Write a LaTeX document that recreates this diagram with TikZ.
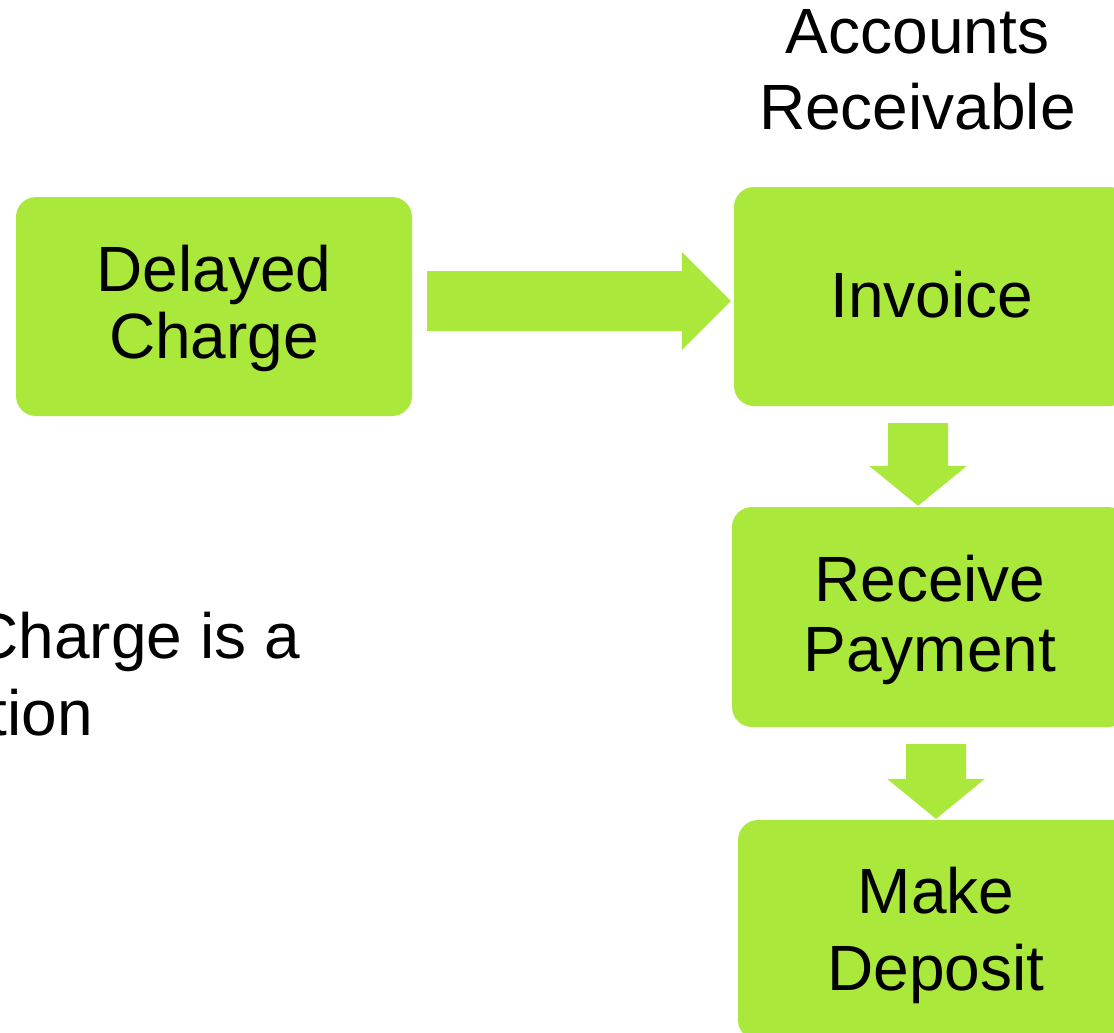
\documentclass[tikz,border=0pt]{standalone}
\usepackage{fontspec}
\setmainfont{Liberation Sans}
\usetikzlibrary{calc}

\definecolor{stepgreen}{RGB}{171,232,60}

\tikzset{
  stepbox/.style={fill=stepgreen, draw=none, rounded corners=20pt,
    align=center, inner sep=0pt, text=black, minimum width=396pt,
    font=\fontsize{64pt}{#1}\selectfont},
  stepbox/.default=72pt,
  plaintext/.style={inner sep=0pt, align=center, text=black,
    font=\fontsize{64pt}{#1}\selectfont},
  plaintext/.default=76pt,
  blockarrow/.style={fill=stepgreen, draw=none}
}

% block arrow pointing right, shaft half-width 30, head half-width 49
\newcommand\rightblock[2]{%
  \fill[blockarrow] ($(#1)+(0,-30)$) -- ($(#2)+(-49,-30)$) -- ($(#2)+(-49,-49)$)
    -- (#2) -- ($(#2)+(-49,49)$) -- ($(#2)+(-49,30)$) -- ($(#1)+(0,30)$) -- cycle;}
% block arrow pointing down
\newcommand\downblock[2]{%
  \fill[blockarrow] ($(#1)+(-30,0)$) -- ($(#2)+(-30,-40)$) -- ($(#2)+(-49,-40)$)
    -- (#2) -- ($(#2)+(49,-40)$) -- ($(#2)+(30,-40)$) -- ($(#1)+(30,0)$) -- cycle;}

\begin{document}
\begin{tikzpicture}[x=1pt, y=-1pt]
  \path[use as bounding box, clip] (0,0) rectangle (1114,1033);
  \fill[white] (0,0) rectangle (1114,1033);

  % process boxes
  \node[stepbox=67pt, minimum height=219pt, text depth=10pt] (dc) at (214,306.5) {Delayed\\Charge};
  \node[stepbox, minimum height=219pt, text depth=5pt] (inv) at (932,296.5) {Invoice};
  \node[stepbox=70pt, minimum height=220pt, text depth=7pt] (rp) at (930,617) {Receive\\Payment};
  \node[stepbox=77pt, minimum height=220pt, text depth=2pt] (md) at (936,930) {Make\\Deposit};

  % heading
  \node[plaintext, text depth=0pt] (ar) at (917.5,69.5) {Accounts\\Receivable};

  % side note, running past the left edge
  \node[plaintext, anchor=base east] (note1) at (300,658) {Charge is a};
  \node[plaintext, anchor=base east] (note2) at (93,735) {tion};

  % connector ends
  \coordinate (r1s) at ($(dc.east)+(15,-5.5)$);
  \coordinate (r1e) at ($(inv.west)+(-3,4.5)$);
  \coordinate (d1s) at ($(inv.south)+(-14,17)$);
  \coordinate (d1e) at ($(rp.north)+(-12,-1)$);
  \coordinate (d2s) at ($(rp.south)+(6,17)$);
  \coordinate (d2e) at ($(md.north)+(0,-1)$);

  \rightblock{r1s}{r1e}
  \downblock{d1s}{d1e}
  \downblock{d2s}{d2e}
\end{tikzpicture}
\end{document}
